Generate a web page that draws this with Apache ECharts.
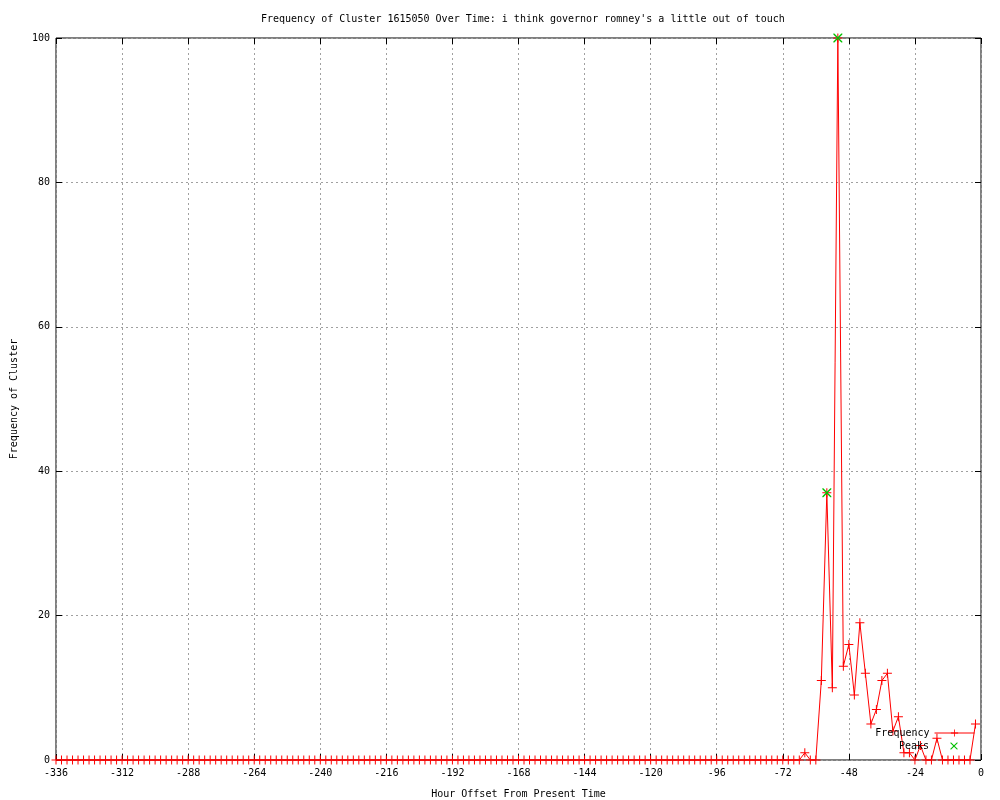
<!DOCTYPE html>
<html>
<head>
<meta charset="utf-8">
<script src="https://cdn.jsdelivr.net/npm/echarts@6/dist/echarts.min.js"></script>
<style>html,body{margin:0;padding:0;background:#fff}#c{width:1000px;height:800px}</style>
</head>
<body>
<div id="c"></div>
<script>
var titleText = "Frequency of Cluster 1615050 Over Time: i think governor romney's a little out of touch";
var xTicks = [-336, -312, -288, -264, -240, -216, -192, -168, -144, -120, -96, -72, -48, -24, 0];
var yTicks = [0, 20, 40, 60, 80, 100];
var startHour = -336;
var stepHours = 2;
// frequency per 2-hour bin, from -336 to -2
var frequency = [
  0,0,0,0,0,0,0,0,0,0,0,0,
  0,0,0,0,0,0,0,0,0,0,0,0,
  0,0,0,0,0,0,0,0,0,0,0,0,
  0,0,0,0,0,0,0,0,0,0,0,0,
  0,0,0,0,0,0,0,0,0,0,0,0,
  0,0,0,0,0,0,0,0,0,0,0,0,
  0,0,0,0,0,0,0,0,0,0,0,0,
  0,0,0,0,0,0,0,0,0,0,0,0,
  0,0,0,0,0,0,0,0,0,0,0,0,
  0,0,0,0,0,0,0,0,0,0,0,0,
  0,0,0,0,0,0,0,0,0,0,0,0,
  0,0,0,0,1,0,0,11,37,10,100,13,
  16,9,19,12,5,7,11,12,4,6,1,1,
  0,2,0,0,3,0,0,0,0,0,0,5
];
var peakHours = [-56, -52];
var peakValues = [37, 100];

var freqData = frequency.map(function (v, i) { return [startHour + stepHours * i, v]; });
var peakData = peakHours.map(function (h, i) { return [h, peakValues[i]]; });

var FONT = 'DejaVu Sans Mono';
var plusPath = 'path://M4,0h1v4h4v1h-4v4h-1v-4h-4v-1h4z';
var crossPath = 'path://M0,0L1,0L9,8L9,9L8,9L0,1Z M8,0L9,0L9,1L1,9L0,9L0,8Z';

var chart = echarts.init(document.getElementById('c'), null, {renderer: 'canvas'});
var splitLine = {show: true, lineStyle: {color: '#a0a0a0', type: [2, 3], width: 1}};
var tick = {show: true, inside: true, length: 6, lineStyle: {color: '#000', width: 1}};
var noLine = {show: false, onZero: false};
var legendText = {fontFamily: FONT, fontSize: 10, color: '#000'};
chart.setOption({
  animation: false,
  backgroundColor: '#fff',
  textStyle: {fontFamily: FONT},
  title: {
    text: titleText, left: 256, top: 9,
    textStyle: {fontFamily: FONT, fontSize: 10, fontWeight: 'normal', color: '#000'}
  },
  grid: {left: 56, right: 19, top: 38, bottom: 40, show: true, borderColor: '#000', borderWidth: 1,
         backgroundColor: 'transparent', containLabel: false, outerBoundsMode: 'none'},
  legend: [
    {data: ['Frequency'], orient: 'vertical', right: 25, top: 728, align: 'right', itemWidth: 40, itemHeight: 9,
     textStyle: legendText, padding: 0, lineStyle: {width: 1}},
    {data: ['Peaks'], orient: 'vertical', right: 25, top: 741, align: 'right', itemWidth: 40, itemHeight: 9,
     textStyle: legendText, padding: 0}
  ],
  xAxis: [
    {type: 'value', min: -336, max: 0, interval: 24, position: 'bottom',
     name: 'Hour Offset From Present Time', nameLocation: 'middle', nameGap: 29,
     nameTextStyle: {fontFamily: FONT, fontSize: 10, color: '#000'},
     axisLine: noLine, axisTick: tick, splitLine: splitLine,
     axisLabel: {fontFamily: FONT, fontSize: 10, color: '#000', margin: 8, showMinLabel: true, showMaxLabel: true}},
    {type: 'value', min: -336, max: 0, interval: 24, position: 'top',
     axisLine: noLine, axisTick: tick, splitLine: {show: false}, axisLabel: {show: false}}
  ],
  yAxis: [
    {type: 'value', min: 0, max: 100, interval: 20, position: 'left',
     name: 'Frequency of Cluster', nameLocation: 'middle', nameGap: 37, nameRotate: 90,
     nameTextStyle: {fontFamily: FONT, fontSize: 10, color: '#000'},
     axisLine: noLine, axisTick: tick, splitLine: splitLine,
     axisLabel: {fontFamily: FONT, fontSize: 10, color: '#000', margin: 6}},
    {type: 'value', min: 0, max: 100, interval: 20, position: 'right',
     axisLine: noLine, axisTick: tick, splitLine: {show: false}, axisLabel: {show: false}}
  ],
  series: [
    {name: 'Frequency', type: 'line', data: freqData, xAxisIndex: 0, yAxisIndex: 0,
     symbol: plusPath, symbolSize: 9, showAllSymbol: true, clip: false,
     lineStyle: {color: '#ff0000', width: 1}, itemStyle: {color: '#ff0000'}, z: 3},
    {name: 'Peaks', type: 'line', data: peakData, xAxisIndex: 0, yAxisIndex: 0,
     symbol: crossPath, symbolSize: 9, showAllSymbol: true, clip: false,
     lineStyle: {color: '#00c000', width: 1, opacity: 0}, itemStyle: {color: '#00c000'}, z: 4}
  ]
});
</script>
</body>
</html>
